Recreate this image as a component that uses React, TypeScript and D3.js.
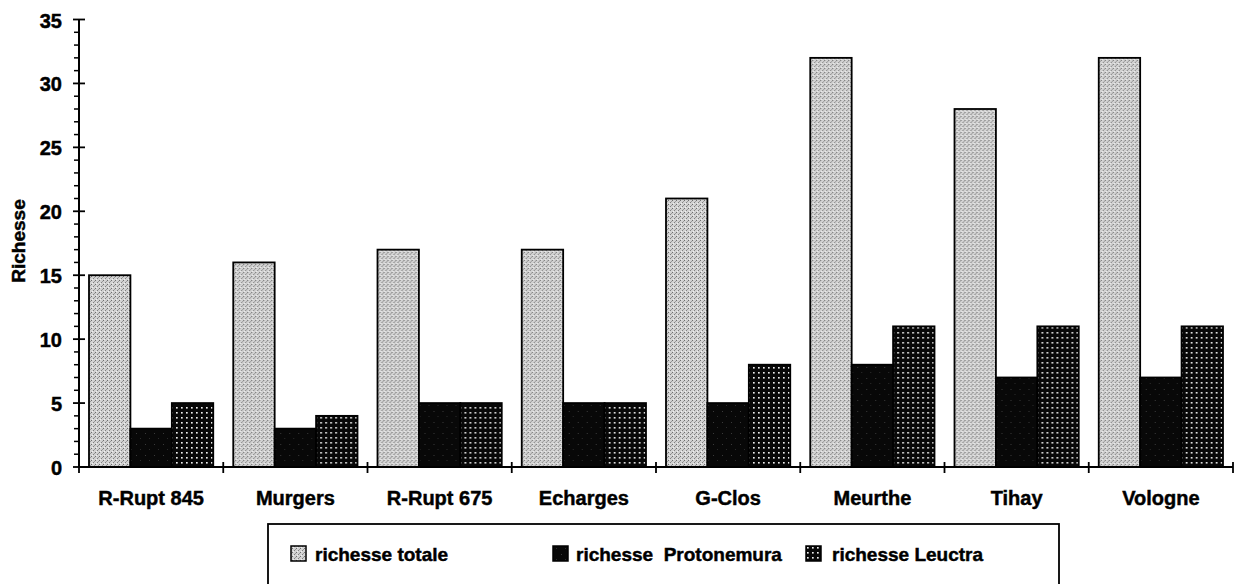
import React from "react";
import * as d3 from "d3";

const categories = ["R-Rupt 845", "Murgers", "R-Rupt 675", "Echarges", "G-Clos", "Meurthe", "Tihay", "Vologne"];
const seriesNames = ["richesse totale", "richesse  Protonemura", "richesse Leuctra"];
const richesseTotale = [15, 16, 17, 17, 21, 32, 28, 32];
const richesseProtonemura = [3, 3, 5, 5, 5, 8, 7, 7];
const richesseLeuctra = [5, 4, 5, 5, 8, 11, 11, 11];
const yTicks = [0, 5, 10, 15, 20, 25, 30, 35];
const yLabel = "Richesse";

const W = 1244;
const H = 584;
const FONT = "'Liberation Sans', Arial, sans-serif";

export default function App() {
  const series = [richesseTotale, richesseProtonemura, richesseLeuctra];
  const fills = ["url(#patTotale)", "url(#patProto)", "url(#patLeuctra)"];

  const x = d3.scaleBand<string>().domain(categories).range([79, 1233]).paddingInner(0).paddingOuter(0);
  const bw = x.bandwidth();
  const xs = d3.scaleBand<number>().domain([0, 1, 2]).range([10, bw - 10]).padding(0);
  const y = d3.scaleLinear().domain([0, 35]).range([467, 19.5]);
  const minor = d3.range(0, 36, 1).filter((v) => v % 5 !== 0);
  const boundaries = d3.range(0, categories.length + 1).map((i) => 79 + i * bw);

  const legendSw = [291, 553, 806];
  const legendTx = [315, 576, 832];

  const textStyle = { stroke: "#000", strokeWidth: 0.45 } as React.CSSProperties;

  return (
    <svg width={W} height={H} style={{ position: "absolute", left: 0, top: 0, background: "#fff" }}
      fontFamily={FONT} fontWeight="bold">
      <defs>
        <pattern id="patTotale" width="4" height="4" patternUnits="userSpaceOnUse">
          <rect width="4" height="4" fill="#d2d2d2" />
          <rect x="0" y="0" width="1" height="1" fill="#6e6e6e" />
          <rect x="2" y="2" width="1" height="1" fill="#808080" />
          <rect x="1" y="3" width="1" height="1" fill="#f0f0f0" />
          <rect x="3" y="1" width="1" height="1" fill="#9a9a9a" />
        </pattern>
        <pattern id="patProto" width="9" height="11" patternUnits="userSpaceOnUse">
          <rect width="9" height="11" fill="#080808" />
          <rect x="3" y="4" width="1" height="1" fill="#3a3a3a" />
          <rect x="7" y="9" width="1" height="1" fill="#2c2c2c" />
        </pattern>
        <pattern id="patLeuctra" width="5" height="5" patternUnits="userSpaceOnUse">
          <rect width="5" height="5" fill="#080808" />
          <rect x="2" y="2" width="1.7" height="1.6" fill="#eeeeee" />
        </pattern>
      </defs>

      {/* bars */}
      {categories.map((c, i) => (
        <g key={c} transform={`translate(${x(c)},0)`}>
          {series.map((s, j) => (
            <rect key={j} x={xs(j)} y={y(s[i])} width={xs.bandwidth()} height={y(0) - y(s[i])}
              fill={fills[j]} stroke="#000" strokeWidth={1.8} />
          ))}
        </g>
      ))}

      {/* y axis */}
      <line x1={79} x2={79} y1={y(35)} y2={y(0)} stroke="#000" strokeWidth={2} />
      {yTicks.map((t) => (
        <g key={t}>
          <line x1={73} x2={85} y1={y(t)} y2={y(t)} stroke="#000" strokeWidth={1.8} />
          <text x={62} y={y(t)} dy="0.4em" textAnchor="end" fontSize={20} style={textStyle}>{t}</text>
        </g>
      ))}
      {minor.map((t) => (
        <line key={t} x1={74} x2={79} y1={y(t)} y2={y(t)} stroke="#000" strokeWidth={1.5} />
      ))}
      <text transform={`translate(25,241) rotate(-90)`} textAnchor="middle" fontSize={19} style={textStyle}>{yLabel}</text>

      {/* x axis */}
      <line x1={79} x2={1233} y1={y(0)} y2={y(0)} stroke="#000" strokeWidth={2} />
      {boundaries.map((b, i) => (
        <line key={i} x1={b} x2={b} y1={y(0) - 5} y2={y(0) + 6} stroke="#000" strokeWidth={1.8} />
      ))}
      {categories.map((c) => (
        <text key={c} x={(x(c) as number) + bw / 2} y={505} textAnchor="middle" fontSize={20} style={textStyle}>{c}</text>
      ))}

      {/* legend */}
      <rect x={268} y={524} width={791} height={80} fill="none" stroke="#000" strokeWidth={1.8} />
      {seriesNames.map((n, j) => (
        <g key={n}>
          <rect x={legendSw[j]} y={546} width={15} height={15} fill={fills[j]} stroke="#000" strokeWidth={1.5} />
          <text x={legendTx[j]} y={561} fontSize={19} style={{ ...textStyle, whiteSpace: "pre" }}>{n}</text>
        </g>
      ))}
    </svg>
  );
}
